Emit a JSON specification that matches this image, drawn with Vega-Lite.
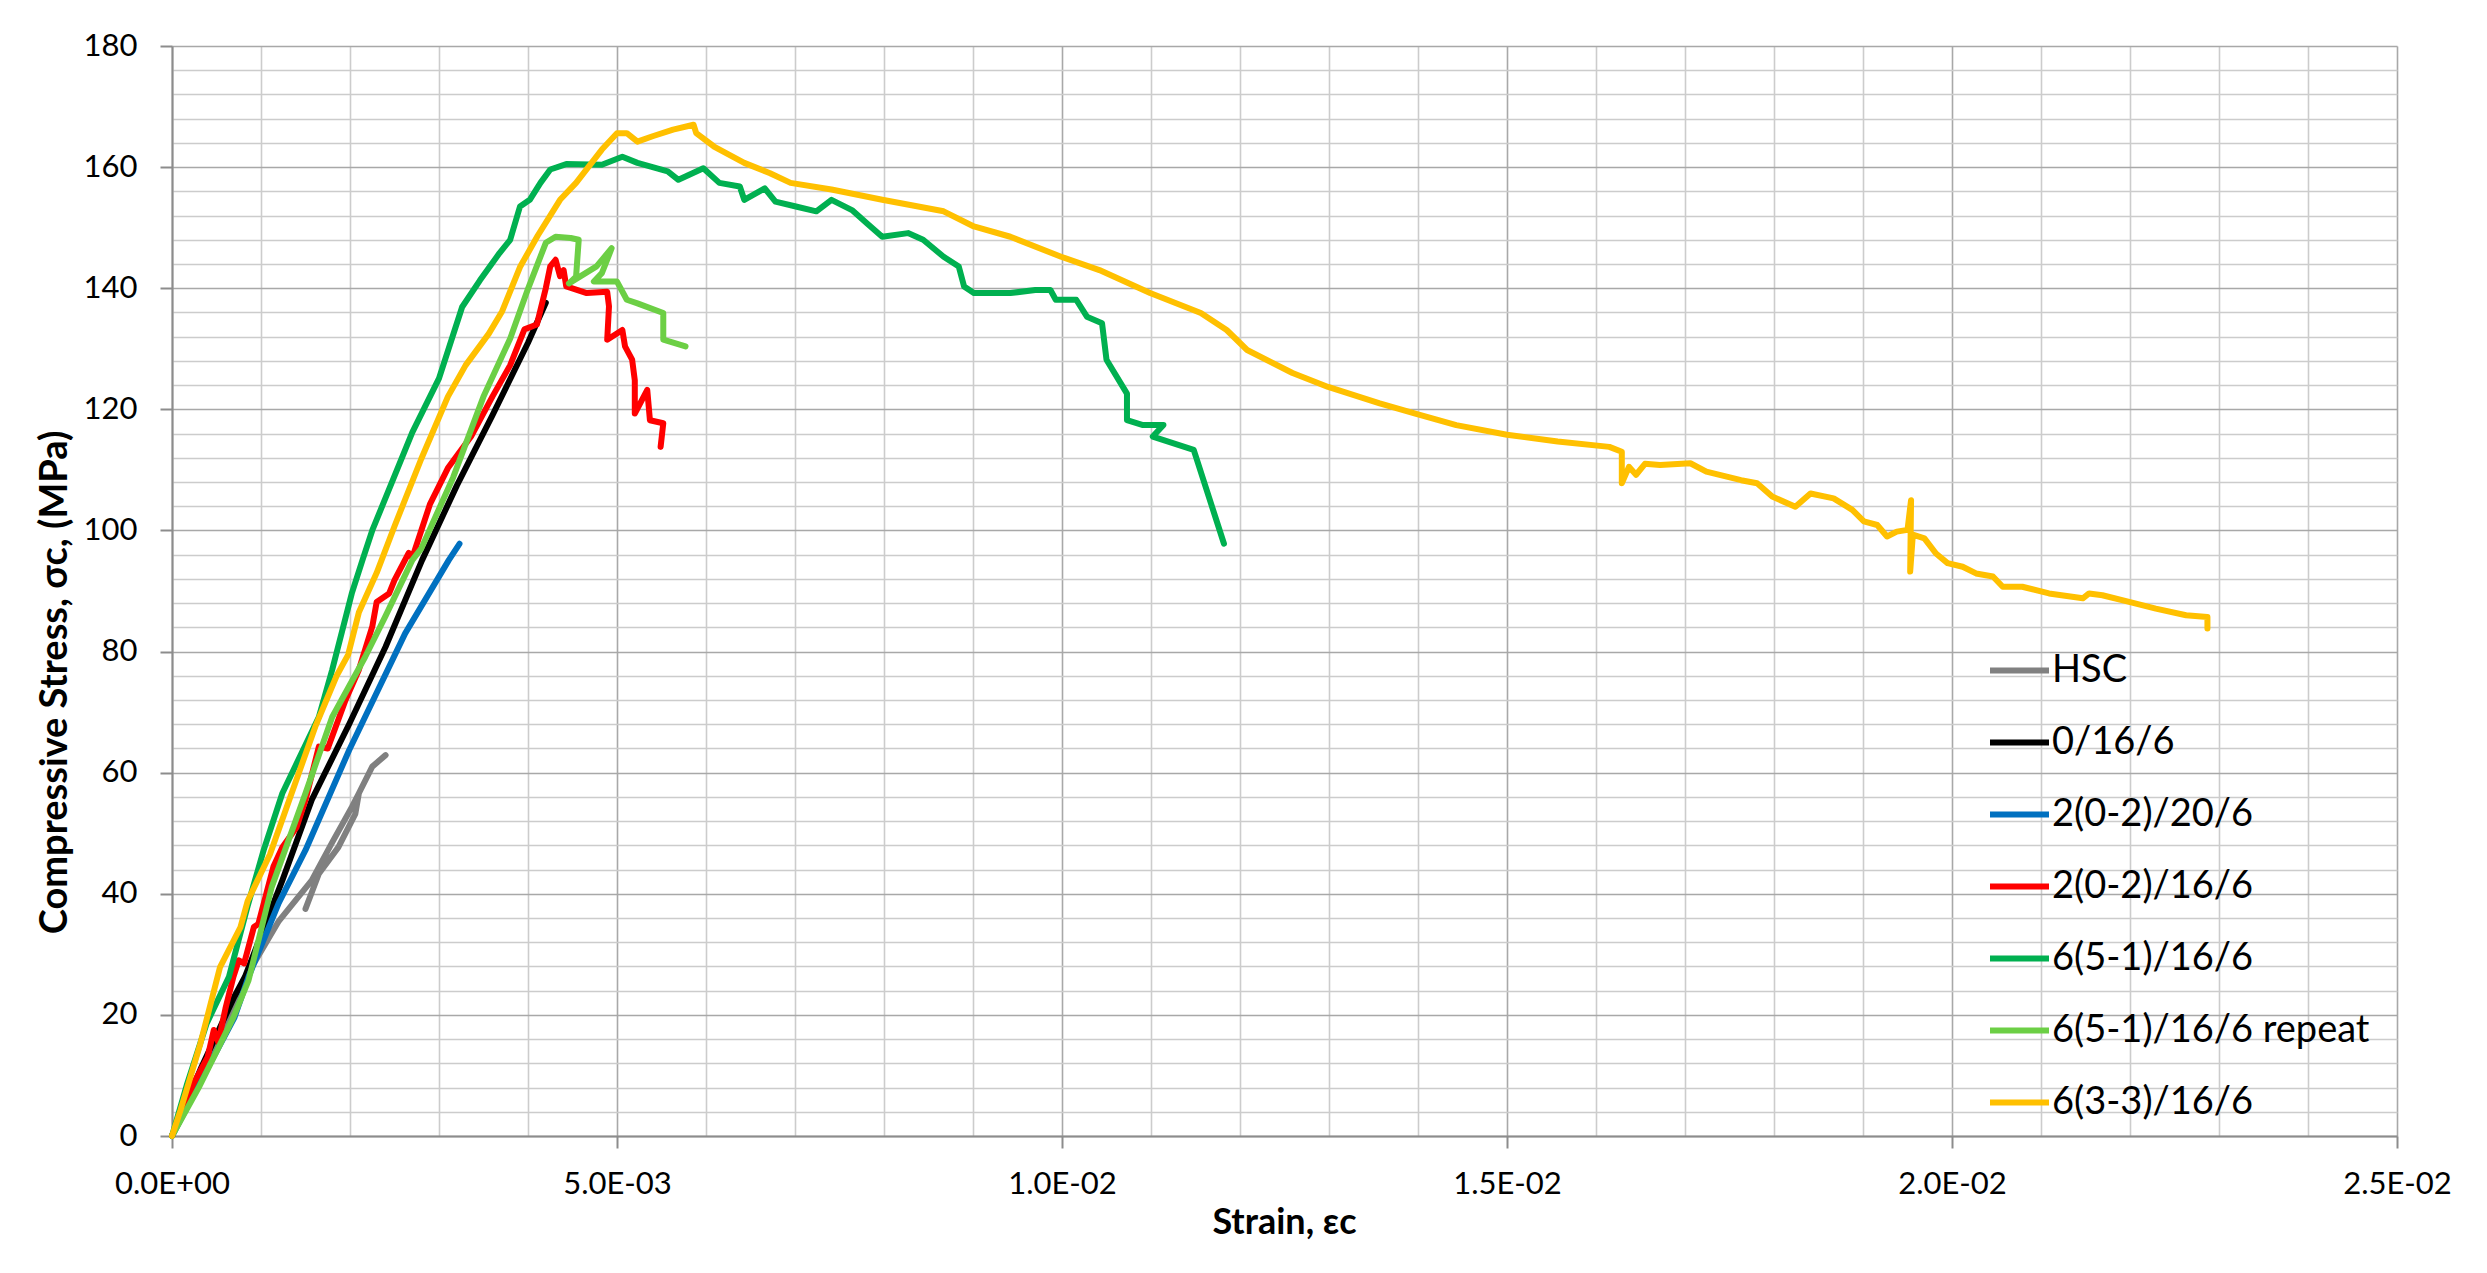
{
  "$schema": "https://vega.github.io/schema/vega-lite/v6.json",
  "width": 2225,
  "height": 1090,
  "autosize": {"type": "none"},
  "padding": {"left": 172, "top": 46, "right": 90, "bottom": 137},
  "background": "white",
  "config": {
    "view": {"stroke": null},
    "font": "Lato"
  },
  "data": {
    "values": [
      {"s": "HSC", "x": 0, "y": 0},
      {"s": "HSC", "x": 0.0003, "y": 9},
      {"s": "HSC", "x": 0.0006, "y": 18.5},
      {"s": "HSC", "x": 0.0009, "y": 28},
      {"s": "HSC", "x": 0.0012, "y": 35.5},
      {"s": "HSC", "x": 0.00157, "y": 42.2},
      {"s": "HSC", "x": 0.0018, "y": 48.5},
      {"s": "HSC", "x": 0.00202, "y": 54.3},
      {"s": "HSC", "x": 0.0021, "y": 56.6},
      {"s": "HSC", "x": 0.00206, "y": 53.2},
      {"s": "HSC", "x": 0.00187, "y": 47.7},
      {"s": "HSC", "x": 0.00165, "y": 43.3},
      {"s": "HSC", "x": 0.0015, "y": 37.5},
      {"s": "HSC", "x": 0.00165, "y": 43.3},
      {"s": "HSC", "x": 0.00187, "y": 47.7},
      {"s": "HSC", "x": 0.00206, "y": 53.2},
      {"s": "HSC", "x": 0.0021, "y": 56.6},
      {"s": "HSC", "x": 0.00225, "y": 61},
      {"s": "HSC", "x": 0.0024, "y": 62.9},

      {"s": "0/16/6", "x": 0, "y": 0},
      {"s": "0/16/6", "x": 0.00032, "y": 11},
      {"s": "0/16/6", "x": 0.0007, "y": 23},
      {"s": "0/16/6", "x": 0.00082, "y": 26.3},
      {"s": "0/16/6", "x": 0.00124, "y": 42.2},
      {"s": "0/16/6", "x": 0.00157, "y": 55.5},
      {"s": "0/16/6", "x": 0.00199, "y": 68},
      {"s": "0/16/6", "x": 0.0024, "y": 80.8},
      {"s": "0/16/6", "x": 0.00281, "y": 95.1},
      {"s": "0/16/6", "x": 0.0032, "y": 107.4},
      {"s": "0/16/6", "x": 0.0036, "y": 119},
      {"s": "0/16/6", "x": 0.004, "y": 131},
      {"s": "0/16/6", "x": 0.0042, "y": 137.6},

      {"s": "2(0-2)/20/6", "x": 0, "y": 0},
      {"s": "2(0-2)/20/6", "x": 0.00032, "y": 9},
      {"s": "2(0-2)/20/6", "x": 0.0007, "y": 19.5},
      {"s": "2(0-2)/20/6", "x": 0.00086, "y": 26.3},
      {"s": "2(0-2)/20/6", "x": 0.0012, "y": 38.5},
      {"s": "2(0-2)/20/6", "x": 0.0015, "y": 47.2},
      {"s": "2(0-2)/20/6", "x": 0.00199, "y": 63.7},
      {"s": "2(0-2)/20/6", "x": 0.00262, "y": 83},
      {"s": "2(0-2)/20/6", "x": 0.00311, "y": 95.1},
      {"s": "2(0-2)/20/6", "x": 0.00323, "y": 97.8},

      {"s": "2(0-2)/16/6", "x": 0, "y": 0},
      {"s": "2(0-2)/16/6", "x": 0.00024, "y": 8.6},
      {"s": "2(0-2)/16/6", "x": 0.0004, "y": 13},
      {"s": "2(0-2)/16/6", "x": 0.00047, "y": 17.5},
      {"s": "2(0-2)/16/6", "x": 0.00052, "y": 15.5},
      {"s": "2(0-2)/16/6", "x": 0.0006, "y": 21},
      {"s": "2(0-2)/16/6", "x": 0.00069, "y": 26.3},
      {"s": "2(0-2)/16/6", "x": 0.00075, "y": 29},
      {"s": "2(0-2)/16/6", "x": 0.00081, "y": 28.5},
      {"s": "2(0-2)/16/6", "x": 0.00092, "y": 34.5},
      {"s": "2(0-2)/16/6", "x": 0.00097, "y": 35},
      {"s": "2(0-2)/16/6", "x": 0.00114, "y": 44.5},
      {"s": "2(0-2)/16/6", "x": 0.00124, "y": 47.7},
      {"s": "2(0-2)/16/6", "x": 0.0014, "y": 51},
      {"s": "2(0-2)/16/6", "x": 0.0015, "y": 55.5},
      {"s": "2(0-2)/16/6", "x": 0.00165, "y": 64.3},
      {"s": "2(0-2)/16/6", "x": 0.00175, "y": 64},
      {"s": "2(0-2)/16/6", "x": 0.00195, "y": 72},
      {"s": "2(0-2)/16/6", "x": 0.0021, "y": 77},
      {"s": "2(0-2)/16/6", "x": 0.00225, "y": 84.1},
      {"s": "2(0-2)/16/6", "x": 0.0023, "y": 88.2},
      {"s": "2(0-2)/16/6", "x": 0.00244, "y": 89.6},
      {"s": "2(0-2)/16/6", "x": 0.0025, "y": 91.8},
      {"s": "2(0-2)/16/6", "x": 0.00266, "y": 96.3},
      {"s": "2(0-2)/16/6", "x": 0.0027, "y": 95.5},
      {"s": "2(0-2)/16/6", "x": 0.0029, "y": 104.4},
      {"s": "2(0-2)/16/6", "x": 0.0031, "y": 110.3},
      {"s": "2(0-2)/16/6", "x": 0.00336, "y": 115.5},
      {"s": "2(0-2)/16/6", "x": 0.0036, "y": 122.1},
      {"s": "2(0-2)/16/6", "x": 0.0038, "y": 127.3},
      {"s": "2(0-2)/16/6", "x": 0.00396, "y": 133.2},
      {"s": "2(0-2)/16/6", "x": 0.0041, "y": 134},
      {"s": "2(0-2)/16/6", "x": 0.0042, "y": 140},
      {"s": "2(0-2)/16/6", "x": 0.00425, "y": 143.6},
      {"s": "2(0-2)/16/6", "x": 0.00431, "y": 144.7},
      {"s": "2(0-2)/16/6", "x": 0.00436, "y": 142},
      {"s": "2(0-2)/16/6", "x": 0.0044, "y": 143},
      {"s": "2(0-2)/16/6", "x": 0.00443, "y": 140.3},
      {"s": "2(0-2)/16/6", "x": 0.00466, "y": 139.2},
      {"s": "2(0-2)/16/6", "x": 0.00489, "y": 139.4},
      {"s": "2(0-2)/16/6", "x": 0.00491, "y": 137},
      {"s": "2(0-2)/16/6", "x": 0.00489, "y": 131.5},
      {"s": "2(0-2)/16/6", "x": 0.00506, "y": 133.1},
      {"s": "2(0-2)/16/6", "x": 0.00509, "y": 130.4},
      {"s": "2(0-2)/16/6", "x": 0.00517, "y": 128.2},
      {"s": "2(0-2)/16/6", "x": 0.0052, "y": 124.8},
      {"s": "2(0-2)/16/6", "x": 0.0052, "y": 119.3},
      {"s": "2(0-2)/16/6", "x": 0.00534, "y": 123.2},
      {"s": "2(0-2)/16/6", "x": 0.00537, "y": 118.2},
      {"s": "2(0-2)/16/6", "x": 0.00552, "y": 117.7},
      {"s": "2(0-2)/16/6", "x": 0.00549, "y": 113.8},

      {"s": "6(5-1)/16/6", "x": 0, "y": 0},
      {"s": "6(5-1)/16/6", "x": 0.00017, "y": 8.6},
      {"s": "6(5-1)/16/6", "x": 0.00039, "y": 18.6},
      {"s": "6(5-1)/16/6", "x": 0.00064, "y": 26.3},
      {"s": "6(5-1)/16/6", "x": 0.00085, "y": 38},
      {"s": "6(5-1)/16/6", "x": 0.00103, "y": 47.2},
      {"s": "6(5-1)/16/6", "x": 0.00124, "y": 56.6},
      {"s": "6(5-1)/16/6", "x": 0.00165, "y": 69.2},
      {"s": "6(5-1)/16/6", "x": 0.0018, "y": 77},
      {"s": "6(5-1)/16/6", "x": 0.00202, "y": 89.6},
      {"s": "6(5-1)/16/6", "x": 0.00214, "y": 95.1},
      {"s": "6(5-1)/16/6", "x": 0.00225, "y": 100},
      {"s": "6(5-1)/16/6", "x": 0.0027, "y": 116.2},
      {"s": "6(5-1)/16/6", "x": 0.003, "y": 125.1},
      {"s": "6(5-1)/16/6", "x": 0.00326, "y": 136.9},
      {"s": "6(5-1)/16/6", "x": 0.00346, "y": 141.3},
      {"s": "6(5-1)/16/6", "x": 0.00368, "y": 145.8},
      {"s": "6(5-1)/16/6", "x": 0.0038, "y": 148},
      {"s": "6(5-1)/16/6", "x": 0.00391, "y": 153.5},
      {"s": "6(5-1)/16/6", "x": 0.00402, "y": 154.6},
      {"s": "6(5-1)/16/6", "x": 0.00414, "y": 157.4},
      {"s": "6(5-1)/16/6", "x": 0.00425, "y": 159.6},
      {"s": "6(5-1)/16/6", "x": 0.00443, "y": 160.5},
      {"s": "6(5-1)/16/6", "x": 0.00483, "y": 160.4},
      {"s": "6(5-1)/16/6", "x": 0.00506, "y": 161.7},
      {"s": "6(5-1)/16/6", "x": 0.00523, "y": 160.7},
      {"s": "6(5-1)/16/6", "x": 0.00557, "y": 159.3},
      {"s": "6(5-1)/16/6", "x": 0.00569, "y": 157.9},
      {"s": "6(5-1)/16/6", "x": 0.00597, "y": 159.8},
      {"s": "6(5-1)/16/6", "x": 0.00615, "y": 157.4},
      {"s": "6(5-1)/16/6", "x": 0.00638, "y": 156.8},
      {"s": "6(5-1)/16/6", "x": 0.00643, "y": 154.6},
      {"s": "6(5-1)/16/6", "x": 0.00666, "y": 156.5},
      {"s": "6(5-1)/16/6", "x": 0.00678, "y": 154.3},
      {"s": "6(5-1)/16/6", "x": 0.00701, "y": 153.5},
      {"s": "6(5-1)/16/6", "x": 0.00724, "y": 152.7},
      {"s": "6(5-1)/16/6", "x": 0.00741, "y": 154.6},
      {"s": "6(5-1)/16/6", "x": 0.00764, "y": 152.9},
      {"s": "6(5-1)/16/6", "x": 0.00781, "y": 150.7},
      {"s": "6(5-1)/16/6", "x": 0.00798, "y": 148.5},
      {"s": "6(5-1)/16/6", "x": 0.00827, "y": 149.1},
      {"s": "6(5-1)/16/6", "x": 0.00844, "y": 148},
      {"s": "6(5-1)/16/6", "x": 0.00867, "y": 145.2},
      {"s": "6(5-1)/16/6", "x": 0.00884, "y": 143.6},
      {"s": "6(5-1)/16/6", "x": 0.0089, "y": 140.3},
      {"s": "6(5-1)/16/6", "x": 0.00901, "y": 139.2},
      {"s": "6(5-1)/16/6", "x": 0.00942, "y": 139.2},
      {"s": "6(5-1)/16/6", "x": 0.0097, "y": 139.7},
      {"s": "6(5-1)/16/6", "x": 0.00987, "y": 139.7},
      {"s": "6(5-1)/16/6", "x": 0.00993, "y": 138.1},
      {"s": "6(5-1)/16/6", "x": 0.01016, "y": 138.1},
      {"s": "6(5-1)/16/6", "x": 0.01028, "y": 135.3},
      {"s": "6(5-1)/16/6", "x": 0.01045, "y": 134.2},
      {"s": "6(5-1)/16/6", "x": 0.0105, "y": 128.2},
      {"s": "6(5-1)/16/6", "x": 0.01073, "y": 122.6},
      {"s": "6(5-1)/16/6", "x": 0.01073, "y": 118.2},
      {"s": "6(5-1)/16/6", "x": 0.01091, "y": 117.4},
      {"s": "6(5-1)/16/6", "x": 0.01114, "y": 117.4},
      {"s": "6(5-1)/16/6", "x": 0.01102, "y": 115.5},
      {"s": "6(5-1)/16/6", "x": 0.01148, "y": 113.3},
      {"s": "6(5-1)/16/6", "x": 0.01182, "y": 97.8},

      {"s": "6(5-1)/16/6 repeat", "x": 0, "y": 0},
      {"s": "6(5-1)/16/6 repeat", "x": 0.0003, "y": 8},
      {"s": "6(5-1)/16/6 repeat", "x": 0.00069, "y": 19.6},
      {"s": "6(5-1)/16/6 repeat", "x": 0.00086, "y": 25.7},
      {"s": "6(5-1)/16/6 repeat", "x": 0.00112, "y": 41.1},
      {"s": "6(5-1)/16/6 repeat", "x": 0.0015, "y": 56.6},
      {"s": "6(5-1)/16/6 repeat", "x": 0.0018, "y": 69.2},
      {"s": "6(5-1)/16/6 repeat", "x": 0.00217, "y": 79.1},
      {"s": "6(5-1)/16/6 repeat", "x": 0.0024, "y": 85.9},
      {"s": "6(5-1)/16/6 repeat", "x": 0.0027, "y": 95.1},
      {"s": "6(5-1)/16/6 repeat", "x": 0.0028, "y": 97},
      {"s": "6(5-1)/16/6 repeat", "x": 0.00316, "y": 108.8},
      {"s": "6(5-1)/16/6 repeat", "x": 0.0035, "y": 122.1},
      {"s": "6(5-1)/16/6 repeat", "x": 0.0038, "y": 131.7},
      {"s": "6(5-1)/16/6 repeat", "x": 0.004, "y": 139.9},
      {"s": "6(5-1)/16/6 repeat", "x": 0.0042, "y": 147.5},
      {"s": "6(5-1)/16/6 repeat", "x": 0.00431, "y": 148.5},
      {"s": "6(5-1)/16/6 repeat", "x": 0.00448, "y": 148.3},
      {"s": "6(5-1)/16/6 repeat", "x": 0.00457, "y": 148},
      {"s": "6(5-1)/16/6 repeat", "x": 0.00454, "y": 141.9},
      {"s": "6(5-1)/16/6 repeat", "x": 0.00446, "y": 140.8},
      {"s": "6(5-1)/16/6 repeat", "x": 0.00477, "y": 143.6},
      {"s": "6(5-1)/16/6 repeat", "x": 0.00494, "y": 146.6},
      {"s": "6(5-1)/16/6 repeat", "x": 0.00483, "y": 142.5},
      {"s": "6(5-1)/16/6 repeat", "x": 0.00474, "y": 141.1},
      {"s": "6(5-1)/16/6 repeat", "x": 0.005, "y": 141.1},
      {"s": "6(5-1)/16/6 repeat", "x": 0.00511, "y": 138.1},
      {"s": "6(5-1)/16/6 repeat", "x": 0.00523, "y": 137.5},
      {"s": "6(5-1)/16/6 repeat", "x": 0.00552, "y": 135.9},
      {"s": "6(5-1)/16/6 repeat", "x": 0.00552, "y": 131.5},
      {"s": "6(5-1)/16/6 repeat", "x": 0.00577, "y": 130.4},

      {"s": "6(3-3)/16/6", "x": 0, "y": 0},
      {"s": "6(3-3)/16/6", "x": 0.000094, "y": 4.2},
      {"s": "6(3-3)/16/6", "x": 0.00032, "y": 15.3},
      {"s": "6(3-3)/16/6", "x": 0.00054, "y": 27.9},
      {"s": "6(3-3)/16/6", "x": 0.00077, "y": 34.5},
      {"s": "6(3-3)/16/6", "x": 0.00085, "y": 38.8},
      {"s": "6(3-3)/16/6", "x": 0.0011, "y": 46.5},
      {"s": "6(3-3)/16/6", "x": 0.00161, "y": 67.6},
      {"s": "6(3-3)/16/6", "x": 0.00185, "y": 76},
      {"s": "6(3-3)/16/6", "x": 0.00198, "y": 79.5},
      {"s": "6(3-3)/16/6", "x": 0.0021, "y": 86.5},
      {"s": "6(3-3)/16/6", "x": 0.0023, "y": 93},
      {"s": "6(3-3)/16/6", "x": 0.0025, "y": 100.7},
      {"s": "6(3-3)/16/6", "x": 0.0028, "y": 111.8},
      {"s": "6(3-3)/16/6", "x": 0.0031, "y": 122.1},
      {"s": "6(3-3)/16/6", "x": 0.0033, "y": 127.3},
      {"s": "6(3-3)/16/6", "x": 0.00356, "y": 132.5},
      {"s": "6(3-3)/16/6", "x": 0.00371, "y": 136.2},
      {"s": "6(3-3)/16/6", "x": 0.00391, "y": 143.5},
      {"s": "6(3-3)/16/6", "x": 0.00411, "y": 148.7},
      {"s": "6(3-3)/16/6", "x": 0.00436, "y": 154.6},
      {"s": "6(3-3)/16/6", "x": 0.00454, "y": 157.4},
      {"s": "6(3-3)/16/6", "x": 0.00483, "y": 162.9},
      {"s": "6(3-3)/16/6", "x": 0.005, "y": 165.6},
      {"s": "6(3-3)/16/6", "x": 0.00511, "y": 165.6},
      {"s": "6(3-3)/16/6", "x": 0.00523, "y": 164.2},
      {"s": "6(3-3)/16/6", "x": 0.0054, "y": 165.1},
      {"s": "6(3-3)/16/6", "x": 0.00563, "y": 166.2},
      {"s": "6(3-3)/16/6", "x": 0.00586, "y": 167},
      {"s": "6(3-3)/16/6", "x": 0.00589, "y": 165.6},
      {"s": "6(3-3)/16/6", "x": 0.00609, "y": 163.4},
      {"s": "6(3-3)/16/6", "x": 0.00643, "y": 160.7},
      {"s": "6(3-3)/16/6", "x": 0.00672, "y": 159},
      {"s": "6(3-3)/16/6", "x": 0.00695, "y": 157.4},
      {"s": "6(3-3)/16/6", "x": 0.00741, "y": 156.3},
      {"s": "6(3-3)/16/6", "x": 0.00798, "y": 154.6},
      {"s": "6(3-3)/16/6", "x": 0.00867, "y": 152.7},
      {"s": "6(3-3)/16/6", "x": 0.00901, "y": 150.2},
      {"s": "6(3-3)/16/6", "x": 0.00942, "y": 148.5},
      {"s": "6(3-3)/16/6", "x": 0.00999, "y": 145.2},
      {"s": "6(3-3)/16/6", "x": 0.01042, "y": 143},
      {"s": "6(3-3)/16/6", "x": 0.01099, "y": 139.2},
      {"s": "6(3-3)/16/6", "x": 0.01156, "y": 135.9},
      {"s": "6(3-3)/16/6", "x": 0.01185, "y": 133.1},
      {"s": "6(3-3)/16/6", "x": 0.01208, "y": 129.8},
      {"s": "6(3-3)/16/6", "x": 0.01259, "y": 126},
      {"s": "6(3-3)/16/6", "x": 0.01299, "y": 123.7},
      {"s": "6(3-3)/16/6", "x": 0.01357, "y": 121},
      {"s": "6(3-3)/16/6", "x": 0.01397, "y": 119.3},
      {"s": "6(3-3)/16/6", "x": 0.01443, "y": 117.4},
      {"s": "6(3-3)/16/6", "x": 0.015, "y": 115.8},
      {"s": "6(3-3)/16/6", "x": 0.01557, "y": 114.7},
      {"s": "6(3-3)/16/6", "x": 0.01615, "y": 113.8},
      {"s": "6(3-3)/16/6", "x": 0.01629, "y": 113},
      {"s": "6(3-3)/16/6", "x": 0.01629, "y": 107.8},
      {"s": "6(3-3)/16/6", "x": 0.01637, "y": 110.5},
      {"s": "6(3-3)/16/6", "x": 0.01645, "y": 109.2},
      {"s": "6(3-3)/16/6", "x": 0.01655, "y": 111},
      {"s": "6(3-3)/16/6", "x": 0.01672, "y": 110.8},
      {"s": "6(3-3)/16/6", "x": 0.01706, "y": 111.1},
      {"s": "6(3-3)/16/6", "x": 0.01724, "y": 109.7},
      {"s": "6(3-3)/16/6", "x": 0.01763, "y": 108.3},
      {"s": "6(3-3)/16/6", "x": 0.01781, "y": 107.8},
      {"s": "6(3-3)/16/6", "x": 0.01798, "y": 105.6},
      {"s": "6(3-3)/16/6", "x": 0.01824, "y": 103.9},
      {"s": "6(3-3)/16/6", "x": 0.01841, "y": 106.1},
      {"s": "6(3-3)/16/6", "x": 0.01867, "y": 105.3},
      {"s": "6(3-3)/16/6", "x": 0.01888, "y": 103.4},
      {"s": "6(3-3)/16/6", "x": 0.01901, "y": 101.5},
      {"s": "6(3-3)/16/6", "x": 0.01916, "y": 100.9},
      {"s": "6(3-3)/16/6", "x": 0.01927, "y": 99},
      {"s": "6(3-3)/16/6", "x": 0.01938, "y": 99.8},
      {"s": "6(3-3)/16/6", "x": 0.0195, "y": 100.1},
      {"s": "6(3-3)/16/6", "x": 0.01954, "y": 105},
      {"s": "6(3-3)/16/6", "x": 0.01953, "y": 93.2},
      {"s": "6(3-3)/16/6", "x": 0.01956, "y": 99.3},
      {"s": "6(3-3)/16/6", "x": 0.01969, "y": 98.7},
      {"s": "6(3-3)/16/6", "x": 0.01982, "y": 96.2},
      {"s": "6(3-3)/16/6", "x": 0.01995, "y": 94.6},
      {"s": "6(3-3)/16/6", "x": 0.02012, "y": 94},
      {"s": "6(3-3)/16/6", "x": 0.02027, "y": 92.9},
      {"s": "6(3-3)/16/6", "x": 0.02046, "y": 92.4},
      {"s": "6(3-3)/16/6", "x": 0.02057, "y": 90.7},
      {"s": "6(3-3)/16/6", "x": 0.02079, "y": 90.7},
      {"s": "6(3-3)/16/6", "x": 0.02109, "y": 89.6},
      {"s": "6(3-3)/16/6", "x": 0.02147, "y": 88.8},
      {"s": "6(3-3)/16/6", "x": 0.02154, "y": 89.6},
      {"s": "6(3-3)/16/6", "x": 0.02169, "y": 89.3},
      {"s": "6(3-3)/16/6", "x": 0.02199, "y": 88.2},
      {"s": "6(3-3)/16/6", "x": 0.02229, "y": 87.1},
      {"s": "6(3-3)/16/6", "x": 0.02263, "y": 86},
      {"s": "6(3-3)/16/6", "x": 0.02287, "y": 85.7},
      {"s": "6(3-3)/16/6", "x": 0.02287, "y": 83.8}
    ]
  },
  "mark": {"type": "line", "strokeWidth": 6, "strokeJoin": "round", "strokeCap": "round"},
  "encoding": {
    "x": {
      "field": "x",
      "type": "quantitative",
      "scale": {"domain": [0, 0.025], "nice": false, "zero": false},
      "axis": {
        "values": [0,0.001,0.002,0.003,0.004,0.005,0.006,0.007,0.008,0.009,0.01,0.011,0.012,0.013,0.014,0.015,0.016,0.017,0.018,0.019,0.02,0.021,0.022,0.023,0.024,0.025],
        "labelExpr": "round(datum.value*1000)==0?'0.0E+00':round(datum.value*1000)==5?'5.0E-03':round(datum.value*1000)==10?'1.0E-02':round(datum.value*1000)==15?'1.5E-02':round(datum.value*1000)==20?'2.0E-02':round(datum.value*1000)==25?'2.5E-02':''",
        "labelOverlap": false,
        "labelFlush": false,
        "labelFont": "Lato",
        "labelFontSize": 31,
        "labelColor": "#000000",
        "labelPadding": 21,
        "tickSize": 12,
        "tickWidth": 2,
        "tickColor": "#8c8c8c",
        "tickOpacity": {"condition": {"test": "round(datum.value*1000) % 5 == 0", "value": 1}, "value": 0},
        "grid": true,
        "gridWidth": 1.6,
        "gridColor": {"condition": {"test": "round(datum.value*1000) % 5 == 0", "value": "#a8a8a8"}, "value": "#cccccc"},
        "domainColor": "#8c8c8c",
        "domainWidth": 2,
        "title": "Strain,  εc",
        "titleFont": "Lato",
        "titleFontWeight": "bold",
        "titleFontSize": 36,
        "titleColor": "#000000",
        "titleBaseline": "alphabetic",
        "titleX": 1112,
        "titleY": 97,
        "titleAlign": "center"
      }
    },
    "y": {
      "field": "y",
      "type": "quantitative",
      "scale": {"domain": [0, 180], "nice": false},
      "axis": {
        "values": [0,4,8,12,16,20,24,28,32,36,40,44,48,52,56,60,64,68,72,76,80,84,88,92,96,100,104,108,112,116,120,124,128,132,136,140,144,148,152,156,160,164,168,172,176,180],
        "labelExpr": "datum.value % 20 == 0 ? datum.label : ''",
        "labelOverlap": false,
        "labelFont": "Lato",
        "labelFontSize": 31,
        "labelColor": "#000000",
        "labelPadding": 23,
        "tickSize": 12,
        "tickWidth": 2,
        "tickColor": "#8c8c8c",
        "tickOpacity": {"condition": {"test": "datum.value % 20 == 0", "value": 1}, "value": 0},
        "grid": true,
        "gridWidth": 1.6,
        "gridColor": {"condition": {"test": "datum.value % 20 == 0", "value": "#a8a8a8"}, "value": "#cccccc"},
        "domainColor": "#8c8c8c",
        "domainWidth": 2,
        "title": "Compressive Stress, σc, (MPa)",
        "titleFont": "Lato",
        "titleFontWeight": "bold",
        "titleFontSize": 38,
        "titleColor": "#000000",
        "titleAngle": 270,
        "titleBaseline": "alphabetic",
        "titleAlign": "center",
        "titleX": -106,
        "titleY": 636
      }
    },
    "color": {
      "field": "s",
      "type": "nominal",
      "scale": {
        "domain": ["HSC", "0/16/6", "2(0-2)/20/6", "2(0-2)/16/6", "6(5-1)/16/6", "6(5-1)/16/6 repeat", "6(3-3)/16/6"],
        "range": ["#808080", "#000000", "#0070C0", "#FF0000", "#00B050", "#6CCF45", "#FFC000"]
      },
      "legend": {
        "orient": "none",
        "legendX": 1815,
        "legendY": 592,
        "title": null,
        "padding": 0,
        "symbolType": "stroke",
        "symbolSize": 3481,
        "symbolStrokeWidth": 6,
        "labelFont": "Lato",
        "labelFontSize": 38,
        "labelColor": "#000000",
        "labelOffset": 0,
        "labelLimit": 800,
        "rowPadding": 20,
        "direction": "vertical"
      }
    },
    "order": {"value": null}
  }
}
